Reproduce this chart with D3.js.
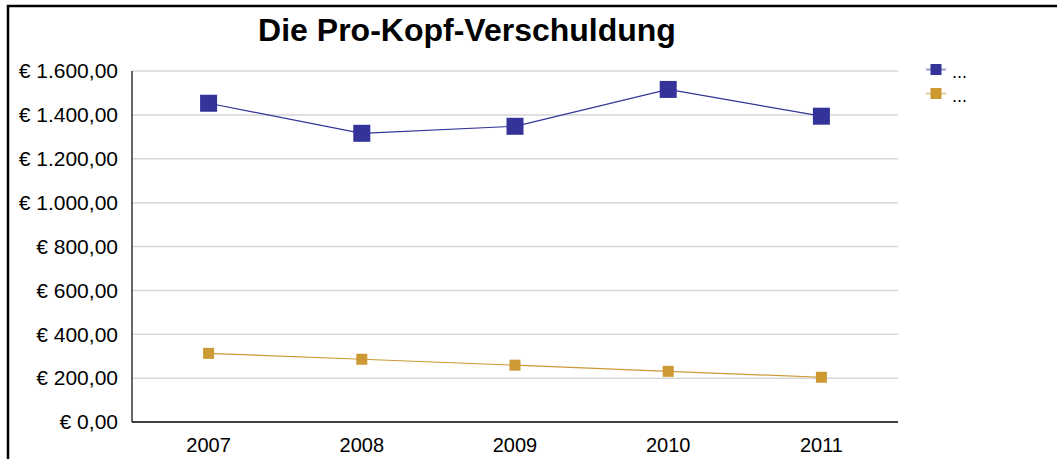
<!DOCTYPE html>
<head>
  <meta charset="utf-8">
  <script src="https://d3js.org/d3.v7.min.js"></script>
  <style>
    body { margin: 0; background: #fff; }
    text { font-family: "Liberation Sans", Arial, sans-serif; fill: #000; }
    .grid line { stroke: #d6d6d6; stroke-width: 1.5px; }
    .line { fill: none; stroke-width: 1.2px; }
  </style>
</head>
<body>
  <svg id="chart" width="1057" height="459"></svg>
  <script>
    var years = ["2007", "2008", "2009", "2010", "2011"];
    var seriesBlue = [1453, 1316, 1348, 1516, 1394];
    var seriesOrange = [313, 286, 259, 231, 204];
    var yTicks = [0, 200, 400, 600, 800, 1000, 1200, 1400, 1600];
    var legendLabels = ["...", "..."];
    var title = "Die Pro-Kopf-Verschuldung";

    var series = [
      { name: legendLabels[0], values: seriesBlue, color: "#333399", size: 17 },
      { name: legendLabels[1], values: seriesOrange, color: "#cc9933", size: 11 }
    ];

    var svg = d3.select("#chart"),
      margin = { top: 71, right: 159, bottom: 37, left: 132 },
      width = 1057,
      height = 459;

    // outer frame (right and bottom run off the picture)
    svg.append("path")
      .attr("d", "M8,470 L8,6 L1070,6")
      .attr("fill", "none")
      .attr("stroke", "#000")
      .attr("stroke-width", 2.5);

    svg.append("text")
      .attr("x", 467)
      .attr("y", 41)
      .attr("text-anchor", "middle")
      .attr("font-size", 32)
      .attr("font-weight", "bold")
      .text(title);

    var x = d3.scaleBand()
      .domain(years)
      .range([margin.left, width - margin.right])
      .padding(0);

    var y = d3.scaleLinear()
      .domain([0, 1600])
      .range([height - margin.bottom, margin.top]);

    // gridlines
    svg.append("g")
      .attr("class", "grid")
      .selectAll("line")
      .data(yTicks.slice(1))
      .join("line")
      .attr("x1", margin.left)
      .attr("x2", width - margin.right)
      .attr("y1", d => y(d))
      .attr("y2", d => y(d));

    // y labels
    var fmt = d3.formatLocale({ decimal: ",", thousands: ".", grouping: [3], currency: ["€ ", ""] }).format("$,.2f");
    svg.append("g")
      .selectAll("text")
      .data(yTicks)
      .join("text")
      .attr("x", margin.left - 14)
      .attr("y", d => y(d))
      .attr("dy", "0.35em")
      .attr("text-anchor", "end")
      .attr("font-size", 21)
      .text(d => fmt(d));

    // x labels
    svg.append("g")
      .selectAll("text")
      .data(years)
      .join("text")
      .attr("x", d => x(d) + x.bandwidth() / 2)
      .attr("y", height - margin.bottom + 30)
      .attr("text-anchor", "middle")
      .attr("font-size", 20)
      .text(d => d);

    // axes lines
    svg.append("line")
      .attr("x1", margin.left).attr("x2", margin.left)
      .attr("y1", y(1600)).attr("y2", y(0))
      .attr("stroke", "#000").attr("stroke-width", 1.2);
    svg.append("line")
      .attr("x1", margin.left).attr("x2", width - margin.right)
      .attr("y1", y(0)).attr("y2", y(0))
      .attr("stroke", "#000").attr("stroke-width", 1.5);

    var line = d3.line()
      .x((d, i) => x(years[i]) + x.bandwidth() / 2)
      .y(d => y(d));

    series.forEach(s => {
      svg.append("path")
        .attr("class", "line")
        .attr("stroke", s.color)
        .attr("d", line(s.values));

      svg.append("g")
        .selectAll("rect")
        .data(s.values)
        .join("rect")
        .attr("x", (d, i) => x(years[i]) + x.bandwidth() / 2 - s.size / 2)
        .attr("y", d => y(d) - s.size / 2)
        .attr("width", s.size)
        .attr("height", s.size)
        .attr("fill", s.color);
    });

    // legend
    var legend = svg.selectAll(".legend")
      .data(series)
      .join("g")
      .attr("class", "legend")
      .attr("transform", (d, i) => "translate(936," + (69.5 + i * 24) + ")");

    legend.append("line")
      .attr("x1", -10).attr("x2", 10)
      .attr("stroke", d => d.color)
      .attr("stroke-opacity", 0.5)
      .attr("stroke-width", 2);

    legend.append("rect")
      .attr("x", -5.5).attr("y", -5.5)
      .attr("width", 11).attr("height", 11)
      .attr("fill", d => d.color);

    legend.append("text")
      .attr("x", 16)
      .attr("y", 8)
      .attr("font-size", 18)
      .text(d => d.name);
  </script>
</body>
